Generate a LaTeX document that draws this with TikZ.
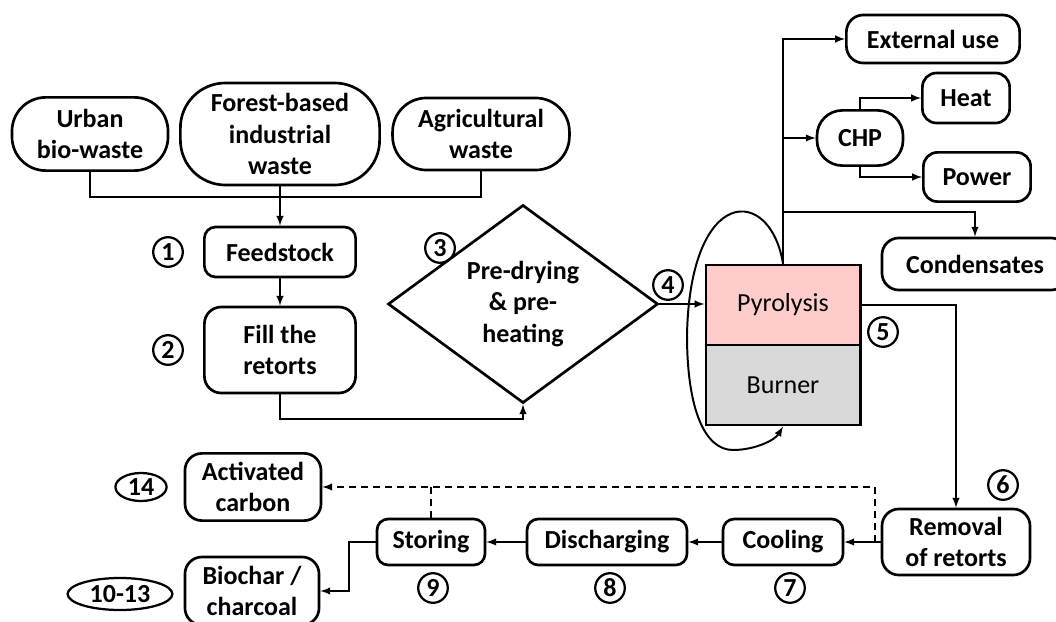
\documentclass[tikz,border=0pt]{standalone}
\usepackage{fontspec}
\setmainfont{Carlito}
\usetikzlibrary{arrows,positioning,calc,shapes.geometric}
\definecolor{pyropink}{RGB}{255,204,204}
\definecolor{burngray}{RGB}{217,217,217}

\begin{document}
\begin{tikzpicture}[x=0.025cm,y=-0.025cm]
 % one unit = one pixel of the figure, y runs downwards
\tikzset{every node/.style={font=\fontsize{18.5}{22.5}\selectfont\bfseries, align=center, inner sep=1pt}}
\tikzset{box/.style={draw, line width=1.9pt, rounded corners=8pt}}
\tikzset{pill/.style={box, rounded corners=24pt}}
\tikzset{stage/.style={draw, line width=2.1pt, minimum width=3.85cm, minimum height=2cm, font=\fontsize{18.5}{22.5}\selectfont}}
\tikzset{num/.style={draw, circle, line width=1.6pt, minimum size=0.74cm, inner sep=0pt}}
\tikzset{oval/.style={draw, ellipse, line width=1.6pt, inner sep=0pt}}
\tikzset{flow/.style={-latex, line width=1.4pt}}
\useasboundingbox (0,0) rectangle (1056,622);
\begin{scope}
% feedstock sources
\node[pill, minimum width=3.9cm, minimum height=1.83cm] (urban) at (90,134) {Urban\\bio-waste};
\node[pill, rounded corners=32pt, minimum width=4.98cm, minimum height=2.55cm] (forest) at (280,134) {Forest-based\\industrial\\waste};
\node[pill, minimum width=4.42cm, minimum height=1.8cm] (agri) at (481,134) {Agricultural\\waste};
\node[box, minimum width=3.78cm, minimum height=1.25cm] (feed) at (280,252) {Feedstock};
\node[box, rounded corners=12pt, minimum width=3.78cm, minimum height=2.15cm] (fill) at (280,350) {Fill the\\retorts};
\node[draw, diamond, line width=1.9pt, inner sep=0pt, minimum width=6.75cm, minimum height=3.95cm] (dia) at (523,304) {Pre-drying\\\& pre-\\heating};
% retort
\node[stage, fill=pyropink] (pyro) at (783,305) {Pyrolysis};
\node[stage, fill=burngray] (burn) at (783,385) {Burner};
% gas products
\node[box, rounded corners=12pt, minimum width=4.33cm, minimum height=1.2cm] (ext) at (933,39) {External use};
\node[box, rounded corners=18pt, minimum width=2.15cm, minimum height=1.38cm] (chp) at (860,138) {CHP};
\node[box, rounded corners=10pt, minimum width=2.18cm, minimum height=1.25cm] (heat) at (966,98) {Heat};
\node[box, rounded corners=10pt, minimum width=2.68cm, minimum height=1.23cm] (power) at (977,177) {Power};
\node[box, rounded corners=12pt, minimum width=4.65cm, minimum height=1.3cm] (cond) at (975,264) {Condensates};
% after pyrolysis
\node[box, rounded corners=12pt, minimum width=3.7cm, minimum height=1.65cm] (rem) at (956,542) {Removal\\of retorts};
\node[box, minimum width=3cm, minimum height=1.15cm] (cool) at (783,542) {Cooling};
\node[box, minimum width=4cm, minimum height=1.15cm] (disch) at (607,542) {Discharging};
\node[box, minimum width=2.7cm, minimum height=1.15cm] (stor) at (431,542) {Storing};
\node[box, rounded corners=12pt, minimum width=3.4cm, minimum height=1.68cm] (act) at (253,487) {Activated\\carbon};
\node[box, rounded corners=12pt, minimum width=3.35cm, minimum height=1.7cm] (bio) at (252,591) {Biochar /\\charcoal};
% step numbers
\node[num] (n1) at (168,252) {1};
\node[num] (n2) at (168,350) {2};
\node[num] (n3) at (440,248) {3};
\node[num] (n4) at (668,285) {4};
\node[num] (n5) at (883,332) {5};
\node[num] (n6) at (1003,485) {6};
\node[num] (n7) at (790,588) {7};
\node[num] (n8) at (610,588) {8};
\node[num] (n9) at (433,588) {9};
\node[oval, minimum width=1.28cm, minimum height=0.7cm] (n14) at (141,487) {14};
\node[oval, minimum width=2.62cm, minimum height=0.8cm] (n1013) at (120,594) {10-13};
% connectors
\coordinate (join) at (280,197);
\coordinate (fb) at (280,419);
\coordinate (ctap) at (783,212);
\coordinate (dsplit) at (875,542);
\draw[line width=1.4pt] (urban.south) |- (join) -| (agri.south);
\draw[flow] (forest.south) -- (feed.north);
\draw[flow] (feed) -- (fill);
\draw[flow] (fill.south) -- (fb) -| (dia.south);
\draw[flow] (dia.east) -- (dia.east -| pyro.west);
\draw[flow] (pyro.north) |- (ext.west);
\draw[flow] (pyro.north |- chp.west) -- (chp.west);
\draw[flow] (chp.north) |- (heat.west);
\draw[flow] (chp.south) |- (power.west);
\draw[flow] (ctap) -| (cond.north);
\draw[flow] (pyro.north) .. controls (770,185) and (690,185) .. (687,335) .. controls (687,410) and (705,450) .. (733,450) .. controls (755,450) and (775,440) .. (burn.south);
\draw[flow] (pyro.east) -| (rem.north);
\draw[flow] (rem.west) -- (cool.east);
\draw[flow] (cool) -- (disch);
\draw[flow] (disch) -- (stor);
\draw[flow, dashed, dash pattern=on 5pt off 3.5pt] (dsplit) |- (act.east);
\draw[line width=1.4pt, dash pattern=on 5pt off 3.5pt] (stor.north) -- (stor.north |- act.east);
\draw[flow] (stor.west) -- ++(-27,0) |- (bio.east);
\end{scope}

\end{tikzpicture}
\end{document}
